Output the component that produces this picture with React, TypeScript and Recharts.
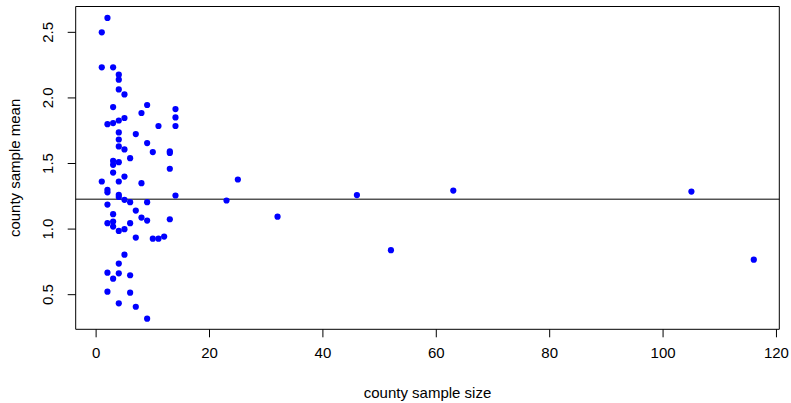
import { ScatterChart, Scatter, XAxis, YAxis, ReferenceLine, ReferenceArea } from 'recharts';

// county sample size (n) and county sample mean, one entry per county
const sampleSize = [
  1, 1, 1,
  2, 2, 2, 2, 2, 2, 2, 2,
  3, 3, 3, 3, 3, 3, 3, 3, 3, 3,
  4, 4, 4, 4, 4, 4, 4, 4, 4, 4, 4, 4, 4, 4, 4,
  5, 5, 5, 5, 5, 5, 5,
  6, 6, 6, 6, 6,
  7, 7, 7, 7,
  8, 8, 8,
  9, 9, 9, 9, 9,
  10, 10,
  11, 11,
  12,
  13, 13, 13, 13,
  14, 14, 14, 14,
  23, 25, 32, 46, 52, 63, 105, 116,
];
const sampleMean = [
  2.5, 2.233, 1.363,
  2.61, 1.8, 1.3, 1.28, 1.187, 1.045, 0.668, 0.523,
  2.233, 1.93, 1.808, 1.52, 1.49, 1.431, 1.114, 1.057, 1.019, 0.622,
  2.177, 2.139, 2.065, 1.828, 1.737, 1.683, 1.63, 1.51, 1.363, 1.261, 1.245, 0.986, 0.737, 0.663, 0.434,
  2.027, 1.847, 1.607, 1.4, 1.223, 0.999, 0.805,
  1.541, 1.205, 1.045, 0.648, 0.515,
  1.724, 1.141, 0.935, 0.408,
  1.885, 1.35, 1.088,
  1.946, 1.656, 1.205, 1.065, 0.317,
  1.587, 0.927,
  1.786, 0.927,
  0.943,
  1.592, 1.58, 1.46, 1.075,
  1.915, 1.851, 1.786, 1.256,
  1.218, 1.378, 1.095, 1.259, 0.839, 1.294, 1.286, 0.767,
];
const grandMean = 1.228;

const xTicks = [0, 20, 40, 60, 80, 100, 120];
const yTicks = [0.5, 1.0, 1.5, 2.0, 2.5];
const xDomain = [-3.6, 120.5];
const yDomain = [0.236, 2.697];

const points = sampleSize.map((n, i) => ({ n, mean: sampleMean[i] }));

const FONT = '"Liberation Sans", Arial, sans-serif';
const FS = 15;

const XTick = (props: any) => {
  const { x, y, payload } = props;
  return (
    <text x={x} y={y + 19} textAnchor="middle" fontFamily={FONT} fontSize={FS} fill="#000">
      {payload.value}
    </text>
  );
};

const YTick = (props: any) => {
  const { y, payload } = props;
  const bx = 53.5;
  return (
    <text
      x={bx}
      y={y}
      transform={`rotate(-90, ${bx}, ${y})`}
      textAnchor="middle"
      fontFamily={FONT}
      fontSize={FS}
      fill="#000"
    >
      {payload.value.toFixed(1)}
    </text>
  );
};

const Dot = (props: any) => <circle cx={props.cx} cy={props.cy} r={3.1} fill="#0000FF" />;

export default function App() {
  return (
    <div style={{ position: 'absolute', left: 0, top: 0 }}>
      <ScatterChart width={791} height={403} margin={{ top: 6.5, right: 11.7, bottom: 0, left: 0 }}>
        <XAxis
          type="number"
          dataKey="n"
          domain={xDomain}
          ticks={xTicks}
          allowDataOverflow
          axisLine={false}
          tickSize={8}
          tickLine={{ stroke: '#000' }}
          tick={<XTick />}
          height={73.7}
          label={{
            content: (p: any) => {
              const vb = p.viewBox;
              return (
                <text x={vb.x + vb.width / 2} y={398} textAnchor="middle" fontFamily={FONT} fontSize={FS} fill="#000">
                  county sample size
                </text>
              );
            },
          }}
        />
        <YAxis
          type="number"
          dataKey="mean"
          domain={yDomain}
          ticks={yTicks}
          allowDataOverflow
          axisLine={false}
          tickSize={8}
          tickLine={{ stroke: '#000' }}
          tick={<YTick />}
          width={75.7}
          label={{
            content: (p: any) => {
              const vb = p.viewBox;
              const cy = vb.y + vb.height / 2;
              return (
                <text
                  x={20}
                  y={cy}
                  transform={`rotate(-90, 20, ${cy})`}
                  textAnchor="middle"
                  fontFamily={FONT}
                  fontSize={FS}
                  fill="#000"
                >
                  county sample mean
                </text>
              );
            },
          }}
        />
        <ReferenceArea
          x1={xDomain[0]}
          x2={xDomain[1]}
          y1={yDomain[0]}
          y2={yDomain[1]}
          fill="none"
          fillOpacity={0}
          stroke="#000"
          strokeWidth={1}
        />
        <ReferenceLine y={grandMean} stroke="#000" strokeWidth={1} />
        <Scatter data={points} shape={<Dot />} isAnimationActive={false} />
      </ScatterChart>
    </div>
  );
}
